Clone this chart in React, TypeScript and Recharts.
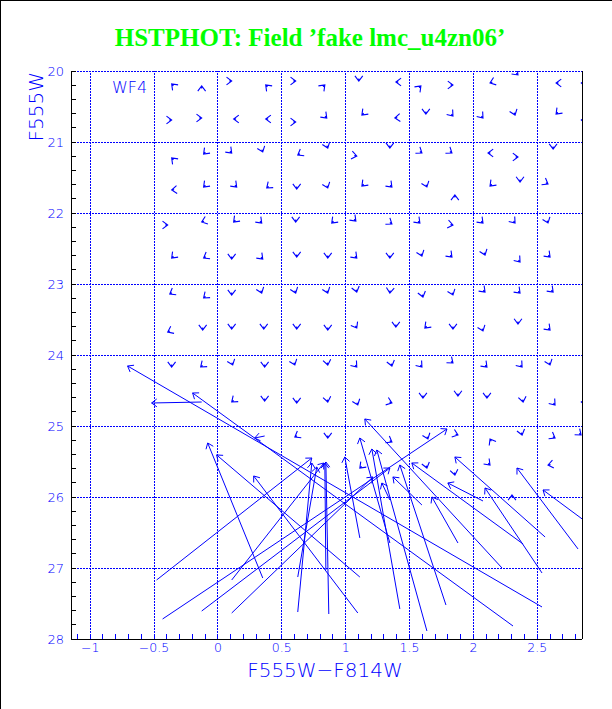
import React from "react";
import { ComposedChart, XAxis, YAxis, Scatter, ReferenceLine } from "recharts";

const BLUE = "#0000ff";
const AXIS_FONT = "DejaVu Sans";

const X_LABELS = [-1, -0.5, 0, 0.5, 1, 1.5, 2, 2.5];
const Y_LABELS = [20, 21, 22, 23, 24, 25, 26, 27, 28];
const X_GRID = [-1, -0.5, 0, 0.5, 1, 1.5, 2, 2.5];
const Y_GRID = [20, 21, 22, 23, 24, 25, 26, 27];
const X_TICKS = Array.from({ length: 40 }, (_, i) => Math.round(-11 + i) / 10);
const Y_TICKS = Array.from({ length: 41 }, (_, i) => Math.round(100 + i) / 5);

// stars that barely moved: output colour, output mag, arrow direction (deg, 0 = up)
const SMALL: [number, number, number][] = [
  [-0.362, 20.183, 315], [-0.127, 20.211, 0], [0.108, 20.141, 90], [0.374, 20.197, 315], [0.609, 20.141, 90], [0.837, 20.197, 45], [1.103, 20.141, 180], [1.393, 20.155, 270], [1.589, 20.211, 45], [1.84, 20.197, 90], [2.13, 20.169, 250], [2.349, 20.056, 135], [2.647, 20.169, 270], [2.845, 20.169, 270],
  [-0.362, 20.69, 90], [-0.127, 20.662, 90], [0.123, 20.676, 270], [0.374, 20.676, 270], [0.609, 20.718, 90], [0.852, 20.662, 135], [1.127, 20.62, 225], [1.385, 20.662, 265], [1.628, 20.606, 180], [1.84, 20.634, 140], [2.075, 20.662, 140], [2.326, 20.62, 160], [2.647, 20.606, 225], [2.845, 20.69, 270],
  [-0.362, 21.225, 315], [-0.112, 21.169, 225], [0.108, 21.155, 135], [0.351, 21.141, 160], [0.625, 21.183, 240], [0.86, 21.085, 160], [1.087, 21.197, 100], [1.346, 21.085, 180], [1.597, 21.155, 125], [1.832, 21.155, 125], [2.114, 21.155, 270], [2.349, 21.211, 90], [2.624, 21.099, 180],
  [-0.362, 21.676, 265], [-0.112, 21.634, 225], [0.147, 21.634, 135], [0.382, 21.648, 230], [0.617, 21.662, 180], [0.86, 21.648, 160], [1.127, 21.62, 225], [1.362, 21.634, 135], [1.636, 21.634, 160], [1.855, 21.746, 0], [2.13, 21.62, 225], [2.365, 21.563, 180], [2.584, 21.592, 120],
  [-0.393, 22.169, 90], [-0.127, 22.127, 250], [0.123, 22.127, 225], [0.343, 22.141, 135], [0.609, 22.127, 180], [0.891, 22.141, 225], [1.08, 22.113, 135], [1.362, 22.155, 125], [1.581, 22.141, 135], [1.84, 22.169, 100], [2.075, 22.141, 135], [2.326, 22.141, 140], [2.584, 22.141, 160],
  [-0.362, 22.634, 225], [-0.112, 22.634, 240], [0.108, 22.648, 180], [0.351, 22.648, 135], [0.617, 22.62, 180], [0.86, 22.634, 180], [1.087, 22.634, 135], [1.346, 22.634, 180], [1.597, 22.606, 160], [1.832, 22.62, 135], [2.091, 22.592, 160], [2.365, 22.69, 140], [2.6, 22.62, 135],
  [-0.377, 23.141, 240], [-0.112, 23.197, 230], [0.108, 23.155, 180], [0.343, 23.127, 160], [0.609, 23.127, 160], [0.86, 23.127, 160], [1.087, 23.113, 165], [1.346, 23.127, 185], [1.605, 23.183, 165], [1.84, 23.155, 160], [2.091, 23.113, 135], [2.365, 23.127, 135], [2.624, 23.113, 135],
  [-0.393, 23.676, 245], [-0.119, 23.648, 180], [0.108, 23.634, 180], [0.359, 23.634, 180], [0.617, 23.634, 180], [0.86, 23.648, 180], [1.087, 23.62, 150], [1.393, 23.606, 180], [1.62, 23.62, 225], [1.84, 23.634, 180], [2.075, 23.662, 160], [2.349, 23.563, 180], [2.6, 23.648, 135],
  [-0.362, 24.169, 180], [-0.135, 24.169, 230], [0.116, 24.141, 160], [0.366, 24.169, 180], [0.602, 24.141, 160], [0.86, 24.141, 170], [1.087, 24.169, 140], [1.362, 24.155, 165], [1.597, 24.169, 140], [1.84, 24.113, 130], [2.106, 24.169, 135], [2.381, 24.169, 140], [2.6, 24.141, 160],
  [0.108, 24.662, 230], [0.366, 24.648, 180], [0.617, 24.676, 180], [0.86, 24.662, 170], [1.095, 24.704, 160], [1.362, 24.676, 110], [1.605, 24.606, 180], [1.879, 24.577, 180], [2.106, 24.606, 180], [2.389, 24.662, 170], [2.639, 24.704, 140], [2.845, 24.662, 270],
  [0.602, 25.155, 240], [0.86, 25.169, 180], [1.362, 25.225, 120], [1.644, 25.183, 160], [1.879, 25.127, 110], [2.13, 25.183, 330], [2.381, 25.127, 165], [2.639, 25.169, 120], [2.843, 25.127, 130],
  [1.111, 25.592, 225], [1.636, 25.592, 165], [1.855, 25.69, 170], [2.13, 25.549, 135], [2.584, 25.549, 260], [2.302, 25.972, 0],
];

// stars that moved a lot: input colour, input mag -> output colour, output mag
const LONG: [number, number, number, number][] = [
  [2.537, 27.549, -0.707, 24.155],
  [2.31, 27.817, -0.198, 24.535],
  [-0.127, 24.662, -0.519, 24.676],
  [-0.48, 27.169, 0.735, 25.451],
  [-0.433, 27.718, 1.793, 25.042],
  [-0.127, 27.606, 1.346, 25.592],
  [0.108, 27.634, 1.213, 25.718],
  [0.108, 27.169, 0.829, 25.521],
  [0.351, 27.141, -0.08, 25.239],
  [1.095, 27.634, 0.28, 25.704],
  [0.625, 27.62, 0.735, 25.521],
  [0.625, 27.127, 0.774, 25.577],
  [0.868, 27.648, 0.845, 25.507],
  [0.845, 27.028, 0.837, 25.521],
  [2.224, 27.0, 1.15, 24.901],
  [1.346, 26.648, 1.111, 25.169],
  [1.424, 27.577, 1.205, 25.324],
  [1.636, 27.887, 1.244, 25.338],
  [1.111, 26.577, 0.993, 25.437],
  [2.819, 26.732, 2.341, 25.592],
  [3.031, 26.549, 2.545, 25.901],
  [2.561, 26.563, 1.855, 25.437],
  [2.537, 27.07, 2.091, 25.873],
  [2.389, 26.662, 1.518, 25.521],
  [1.879, 26.648, 1.675, 26.0],
  [1.597, 26.113, 1.37, 25.718],
  [1.346, 26.042, 1.283, 25.803],
  [2.075, 26.056, 1.8, 25.803],
  [1.785, 27.521, 1.424, 25.549],
  [1.111, 27.127, -0.01, 25.408],
  [0.366, 25.141, 0.288, 25.169],
];

const smallData = SMALL.map(([x, y, dir]) => ({ x, y, dir }));

function head(tx: number, ty: number, ux: number, uy: number) {
  const len = 6.5;
  const a = (37 * Math.PI) / 180;
  const bx = -ux, by = -uy;
  const c = Math.cos(a), s = Math.sin(a);
  const p1x = tx + (bx * c - by * s) * len, p1y = ty + (bx * s + by * c) * len;
  const p2x = tx + (bx * c + by * s) * len, p2y = ty + (-bx * s + by * c) * len;
  return `M${p1x},${p1y}L${tx},${ty}L${p2x},${p2y}`;
}

const SmallArrow = (props: any) => {
  const { cx, cy, payload } = props;
  if (cx == null || cy == null) return <g />;
  const d = (payload.dir * Math.PI) / 180;
  const ux = Math.sin(d), uy = -Math.cos(d);
  const path = `M${cx - ux * 2.5},${cy - uy * 2.5}L${cx},${cy}` + head(cx, cy, ux, uy);
  return <path d={path} stroke={BLUE} strokeWidth={1.1} fill="none" />;
};

const LongArrow = (props: any) => {
  const { x1, y1, x2, y2, clipPath } = props;
  const L = Math.hypot(x2 - x1, y2 - y1) || 1;
  const ux = (x2 - x1) / L, uy = (y2 - y1) / L;
  return (
    <path
      clipPath={clipPath}
      d={`M${x1},${y1}L${x2},${y2}` + head(x2, y2, ux, uy)}
      stroke={BLUE}
      strokeWidth={1}
      fill="none"
    />
  );
};

const fmt = (v: number) => (v < 0 ? "\u2212" + String(-v) : String(v));
const isLabel = (arr: number[], v: number) => arr.some((t) => Math.abs(t - v) < 1e-6);

const XTick = (props: any) => {
  const { x, y, payload } = props;
  const v = payload.value;
  return (
    <g>
      <line x1={x} y1={y} x2={x} y2={y - 5} stroke={BLUE} shapeRendering="crispEdges" />
      {isLabel(X_LABELS, v) && (
        <text x={x} y={y + 13} textAnchor="middle" fill={BLUE} fontSize={12.5} fontFamily={AXIS_FONT} fontWeight={200}>
          {fmt(v)}
        </text>
      )}
    </g>
  );
};

const YTick = (props: any) => {
  const { x, y, payload } = props;
  const v = payload.value;
  return (
    <g>
      <line x1={x} y1={y} x2={x + 5} y2={y} stroke="#000" shapeRendering="crispEdges" />
      {isLabel(Y_LABELS, v) && (
        <text x={x - 7} y={y + 5} textAnchor="end" fill={BLUE} fontSize={13} fontFamily={AXIS_FONT} fontWeight={200}>
          {fmt(v)}
        </text>
      )}
    </g>
  );
};

export default function App() {
  return (
    <div style={{ position: "absolute", left: 0, top: 0, width: 612, height: 709, background: "#fff" }}>
      <ComposedChart width={612} height={709} margin={{ top: 71, right: 30, bottom: 0, left: 0 }}>
        <XAxis
          type="number"
          dataKey="x"
          domain={[-1.15, 2.85]}
          allowDataOverflow
          ticks={X_TICKS}
          interval={0}
          height={70}
          tickSize={0}
          tickMargin={0}
          tickLine={false}
          axisLine={{ stroke: "#000", shapeRendering: "crispEdges" }}
          tick={<XTick />}
        />
        <YAxis
          type="number"
          dataKey="y"
          domain={[20, 28]}
          reversed
          allowDataOverflow
          ticks={Y_TICKS}
          interval={0}
          width={71}
          tickSize={0}
          tickMargin={0}
          tickLine={false}
          axisLine={{ stroke: "#000", shapeRendering: "crispEdges" }}
          tick={<YTick />}
        />
        {X_GRID.map((v) => (
          <ReferenceLine key={"gx" + v} x={v} stroke={BLUE} strokeDasharray="2 1" shapeRendering="crispEdges" />
        ))}
        {Y_GRID.map((v) => (
          <ReferenceLine key={"gy" + v} y={v} stroke={BLUE} strokeDasharray="2 1" shapeRendering="crispEdges" />
        ))}
        <ReferenceLine x={2.85} stroke="#000" ifOverflow="visible" shapeRendering="crispEdges" />
        {LONG.map(([x0, y0, x1, y1], i) => (
          <ReferenceLine
            key={"a" + i}
            segment={[{ x: x0, y: y0 }, { x: x1, y: y1 }]}
            ifOverflow="hidden"
            shape={<LongArrow />}
          />
        ))}
        <Scatter data={smallData} shape={<SmallArrow />} isAnimationActive={false} />
      </ComposedChart>
      <svg width={612} height={709} style={{ position: "absolute", left: 0, top: 0, pointerEvents: "none" }}>
        <line x1={0.5} y1={0} x2={0.5} y2={709} stroke="#000" />
        <line x1={0} y1={0.5} x2={612} y2={0.5} stroke="#000" />
        <text x={310} y={46} textAnchor="middle" fill="#00ff00" fontSize={25} fontWeight="bold" fontFamily="Liberation Serif">
          HSTPHOT: Field ’fake lmc_u4zn06’
        </text>
        <text x={112} y={93} fill={BLUE} fontSize={16} fontFamily={AXIS_FONT} fontWeight={200}>
          WF4
        </text>
        <text x={325} y={677} textAnchor="middle" fill={BLUE} fontSize={20} fontFamily={AXIS_FONT} fontWeight={200}>
          F555W−F814W
        </text>
        <text transform="translate(43,72) rotate(-90)" textAnchor="end" fill={BLUE} fontSize={20} fontFamily={AXIS_FONT} fontWeight={200}>
          F555W
        </text>
      </svg>
    </div>
  );
}
